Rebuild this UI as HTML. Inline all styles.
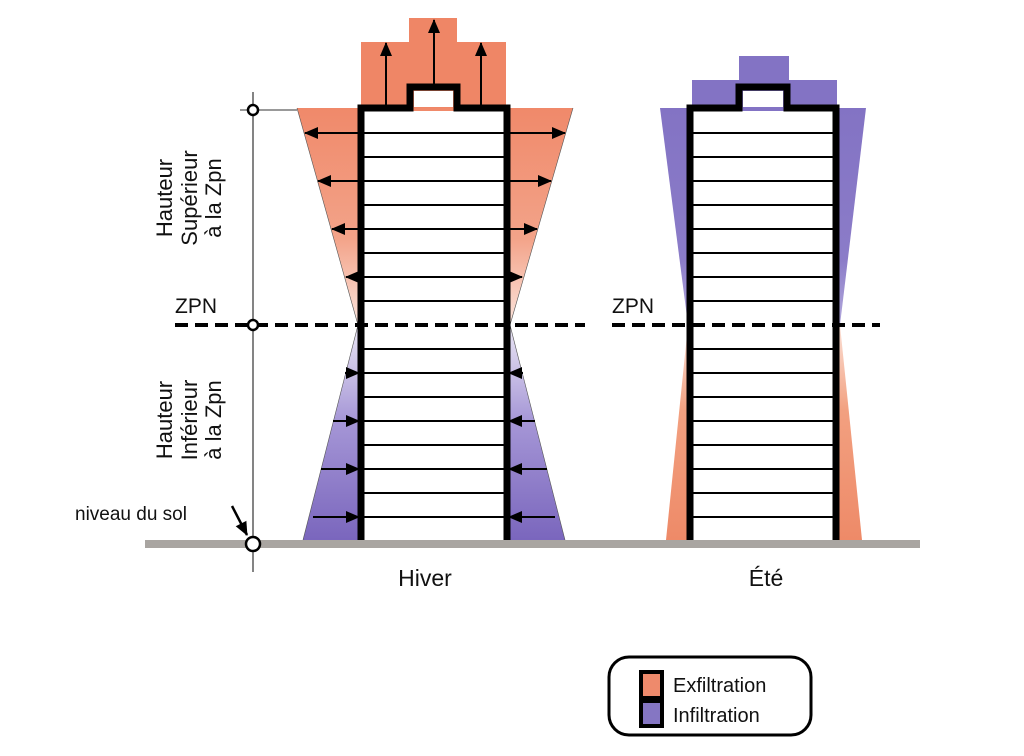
<!DOCTYPE html>
<html><head><meta charset="utf-8"><style>
html,body{margin:0;padding:0;background:#fff;}
svg{display:block;font-family:"Liberation Sans","DejaVu Sans",sans-serif;}
</style></head><body>
<svg width="1024" height="756" viewBox="0 0 1024 756" xmlns="http://www.w3.org/2000/svg">
<defs>
<linearGradient id="og" x1="0" y1="0" x2="0" y2="1">
<stop offset="0" stop-color="#f0896a"/><stop offset="0.6" stop-color="#f3a389"/><stop offset="1" stop-color="#fbe4dc"/>
</linearGradient>
<linearGradient id="pg" x1="0" y1="0" x2="0" y2="1">
<stop offset="0" stop-color="#ebe7f5"/><stop offset="0.45" stop-color="#a596d6"/><stop offset="1" stop-color="#7a66bd"/>
</linearGradient>
<linearGradient id="og2" x1="0" y1="0" x2="0" y2="1">
<stop offset="0" stop-color="#fbe0d6"/><stop offset="0.4" stop-color="#f2a080"/><stop offset="1" stop-color="#ee8a68"/>
</linearGradient>
<linearGradient id="pg2" x1="0" y1="0" x2="0" y2="1">
<stop offset="0" stop-color="#8373c4"/><stop offset="0.7" stop-color="#8b7cc8"/><stop offset="1" stop-color="#b3a9dc"/>
</linearGradient>
<marker id="ahb" markerWidth="14" markerHeight="12" refX="13" refY="6" orient="auto" markerUnits="userSpaceOnUse"><path d="M0,0 L14,6 L0,12 z" fill="#000"/></marker>
</defs>

<!-- HIVER -->
<polygon points="361,42 409,42 409,18 457,18 457,42 506,42 506,108 361,108" fill="#ef8666"/>
<polygon points="297,108 573,108 510,325 358,325" fill="url(#og)"/>
<line x1="297" y1="108" x2="358" y2="325" stroke="#555" stroke-width="0.6"/>
<line x1="573" y1="108" x2="510" y2="325" stroke="#555" stroke-width="0.6"/>
<polygon points="358,325 510,325 565,540 303,540" fill="url(#pg)"/>
<line x1="358" y1="325" x2="303" y2="540" stroke="#555" stroke-width="0.6"/>
<line x1="510" y1="325" x2="565" y2="540" stroke="#555" stroke-width="0.6"/>

<!-- ÉTÉ -->
<polygon points="692,80 739,80 739,56 789,56 789,80 837,80 837,108 692,108" fill="#8373c4"/>
<polygon points="660,108 866,108 840,325 688,325" fill="url(#pg2)"/>
<polygon points="688,325 840,325 862,540 666,540" fill="url(#og2)"/>

<!-- buildings -->
<rect x="364" y="111" width="140" height="429" fill="#fff"/>
<rect x="693" y="111" width="140" height="429" fill="#fff"/>
<g stroke="#000" stroke-width="2">
<line x1="364" y1="133" x2="504" y2="133"/><line x1="364" y1="157" x2="504" y2="157"/><line x1="364" y1="181" x2="504" y2="181"/><line x1="364" y1="205" x2="504" y2="205"/><line x1="364" y1="229" x2="504" y2="229"/><line x1="364" y1="253" x2="504" y2="253"/><line x1="364" y1="277" x2="504" y2="277"/><line x1="364" y1="301" x2="504" y2="301"/><line x1="364" y1="349" x2="504" y2="349"/><line x1="364" y1="373" x2="504" y2="373"/><line x1="364" y1="397" x2="504" y2="397"/><line x1="364" y1="421" x2="504" y2="421"/><line x1="364" y1="445" x2="504" y2="445"/><line x1="364" y1="469" x2="504" y2="469"/><line x1="364" y1="493" x2="504" y2="493"/><line x1="364" y1="517" x2="504" y2="517"/>
<line x1="693" y1="133" x2="833" y2="133"/><line x1="693" y1="157" x2="833" y2="157"/><line x1="693" y1="181" x2="833" y2="181"/><line x1="693" y1="205" x2="833" y2="205"/><line x1="693" y1="229" x2="833" y2="229"/><line x1="693" y1="253" x2="833" y2="253"/><line x1="693" y1="277" x2="833" y2="277"/><line x1="693" y1="301" x2="833" y2="301"/><line x1="693" y1="349" x2="833" y2="349"/><line x1="693" y1="373" x2="833" y2="373"/><line x1="693" y1="397" x2="833" y2="397"/><line x1="693" y1="421" x2="833" y2="421"/><line x1="693" y1="445" x2="833" y2="445"/><line x1="693" y1="469" x2="833" y2="469"/><line x1="693" y1="493" x2="833" y2="493"/><line x1="693" y1="517" x2="833" y2="517"/>
</g>
<g fill="none" stroke="#000" stroke-width="7" stroke-linejoin="miter">
<polyline points="361,541 361,108 410,108 410,87 457,87 457,108 507,108 507,541"/>
<polyline points="690,541 690,108 739,108 739,87 787,87 787,108 836,108 836,541"/>
</g>
<rect x="414" y="91" width="39" height="16" fill="#fff"/>
<rect x="743" y="91" width="40" height="16" fill="#fff"/>

<!-- Arrows hiver -->
<g stroke="#000" stroke-width="2" marker-end="url(#ahb)">
<line x1="386" y1="105" x2="386" y2="43"/>
<line x1="434" y1="84" x2="434" y2="20"/>
<line x1="481" y1="105" x2="481" y2="43"/>
<line x1="364" y1="133" x2="305" y2="133"/><line x1="504" y1="133" x2="565" y2="133"/>
<line x1="364" y1="181" x2="318" y2="181"/><line x1="504" y1="181" x2="551" y2="181"/>
<line x1="364" y1="229" x2="332" y2="229"/><line x1="504" y1="229" x2="537" y2="229"/>
<line x1="364" y1="277" x2="346" y2="277"/><line x1="504" y1="277" x2="522" y2="277"/>
<line x1="345" y1="373" x2="359" y2="373"/><line x1="523" y1="373" x2="509" y2="373"/>
<line x1="333" y1="421" x2="359" y2="421"/><line x1="535" y1="421" x2="509" y2="421"/>
<line x1="321" y1="469" x2="359" y2="469"/><line x1="547" y1="469" x2="509" y2="469"/>
<line x1="313" y1="517" x2="359" y2="517"/><line x1="555" y1="517" x2="509" y2="517"/>
</g>

<!-- dashed ZPN -->
<line x1="175" y1="325" x2="585" y2="325" stroke="#000" stroke-width="4" stroke-dasharray="13,7"/>
<line x1="612" y1="325" x2="880" y2="325" stroke="#000" stroke-width="4" stroke-dasharray="13,7"/>

<!-- ground -->
<rect x="145" y="540" width="775" height="8" fill="#a9a5a1"/>

<!-- dimension line -->
<line x1="253" y1="92" x2="253" y2="572" stroke="#333" stroke-width="1.2"/>
<line x1="240" y1="110" x2="297" y2="110" stroke="#333" stroke-width="1"/>
<g fill="#fff" stroke="#000" stroke-width="2.5">
<circle cx="253" cy="110" r="5"/><circle cx="253" cy="325" r="5"/><circle cx="253" cy="544" r="7"/>
</g>
<line x1="232" y1="506" x2="247" y2="535" stroke="#000" stroke-width="2.5" marker-end="url(#ahb)"/>

<!-- labels -->
<g font-size="22" fill="#111" text-anchor="middle">
<text transform="translate(172,198) rotate(-90)">Hauteur</text>
<text transform="translate(197,198) rotate(-90)">Supérieur</text>
<text transform="translate(221,198) rotate(-90)">à la Zpn</text>
<text transform="translate(172,420) rotate(-90)">Hauteur</text>
<text transform="translate(197,420) rotate(-90)">Inférieur</text>
<text transform="translate(221,420) rotate(-90)">à la Zpn</text>
</g>
<g font-size="21" fill="#111">
<text x="175" y="313">ZPN</text>
<text x="612" y="313">ZPN</text>
<text x="75" y="520" font-size="19">niveau du sol</text>
<text x="425" y="586" font-size="23" text-anchor="middle">Hiver</text>
<text x="766" y="586" font-size="23" text-anchor="middle">Été</text>
</g>

<!-- legend -->
<rect x="609" y="657" width="202" height="78" rx="20" fill="#fff" stroke="#000" stroke-width="3"/>
<rect x="639" y="670" width="25" height="58" fill="#000"/>
<rect x="643" y="674" width="17" height="22" fill="#ee8a6c"/>
<rect x="643" y="703" width="17" height="21" fill="#8576c3"/>
<g font-size="20" fill="#111">
<text x="673" y="692">Exfiltration</text>
<text x="673" y="722">Infiltration</text>
</g>
</svg>
</body></html>
